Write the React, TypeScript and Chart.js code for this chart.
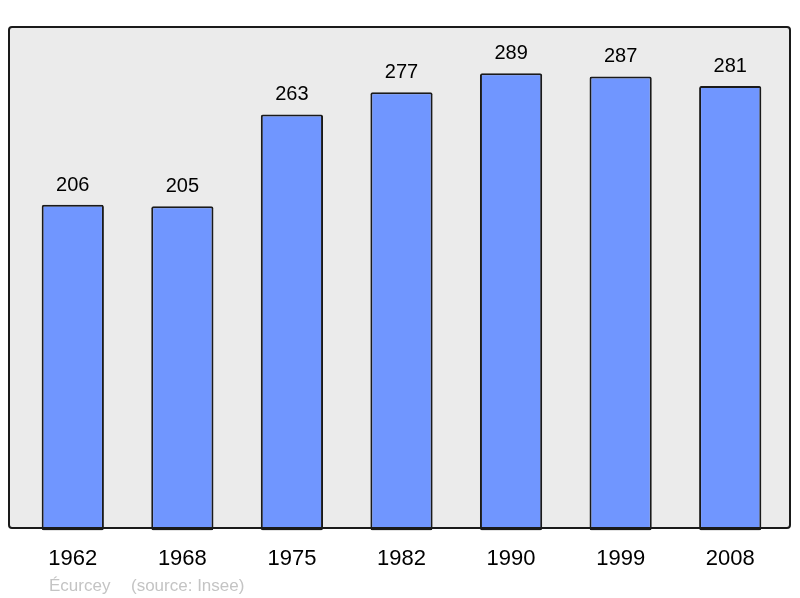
import React, { useEffect, useRef } from "react";
import { Chart, registerables } from "chart.js";

Chart.register(...registerables);

const years = ["1962", "1968", "1975", "1982", "1990", "1999", "2008"];
const population = [206, 205, 263, 277, 289, 287, 281];
const commune = "Écurcey";
const source = "(source: Insee)";

const FONT = "'Liberation Sans', Arial, sans-serif";

function panelPath(ctx: CanvasRenderingContext2D) {
  const x = 9, y = 27, w = 781, h = 501, r = 3;
  ctx.beginPath();
  ctx.moveTo(x + r, y);
  ctx.lineTo(x + w - r, y);
  ctx.quadraticCurveTo(x + w, y, x + w, y + r);
  ctx.lineTo(x + w, y + h - r);
  ctx.quadraticCurveTo(x + w, y + h, x + w - r, y + h);
  ctx.lineTo(x + r, y + h);
  ctx.quadraticCurveTo(x, y + h, x, y + h - r);
  ctx.lineTo(x, y + r);
  ctx.quadraticCurveTo(x, y, x + r, y);
  ctx.closePath();
}

const panelPlugin = {
  id: "panel",
  beforeDraw(chart: any) {
    const ctx = chart.ctx;
    ctx.save();
    panelPath(ctx);
    ctx.fillStyle = "#ebebeb";
    ctx.fill();
    ctx.restore();
  },
  afterDraw(chart: any) {
    const ctx = chart.ctx;
    ctx.save();
    panelPath(ctx);
    ctx.strokeStyle = "#1a1a1a";
    ctx.lineWidth = 2;
    ctx.stroke();

    // value labels
    const meta = chart.getDatasetMeta(0);
    ctx.fillStyle = "#000";
    ctx.font = `20px ${FONT}`;
    ctx.textAlign = "center";
    ctx.textBaseline = "alphabetic";
    meta.data.forEach((bar: any, i: number) => {
      ctx.fillText(String(population[i]), bar.x, bar.y - 14);
    });

    // footer
    ctx.fillStyle = "#c4c4c4";
    ctx.font = `17px ${FONT}`;
    ctx.textAlign = "left";
    ctx.fillText(commune, 49, 591);
    ctx.fillText(source, 131, 591);
    ctx.restore();
  },
};

export default function App() {
  const ref = useRef<HTMLCanvasElement>(null);
  useEffect(() => {
    if (!ref.current) return;
    const chart = new Chart(ref.current, {
      type: "bar",
      data: {
        labels: years,
        datasets: [
          {
            data: population,
            backgroundColor: "#7096ff",
            borderColor: "#1a1a1a",
            borderWidth: 2,
            borderRadius: 2,
            borderSkipped: false,
            barPercentage: 0.568,
            categoryPercentage: 1,
          },
        ],
      },
      options: {
        animation: false,
        responsive: false,
        devicePixelRatio: 1,
        layout: { padding: { left: 18, right: 15, top: 29, bottom: 11 } },
        plugins: { legend: { display: false }, tooltip: { enabled: false } },
        scales: {
          x: {
            grid: { display: false, drawTicks: false },
            border: { display: false },
            ticks: { color: "#000", font: { family: FONT, size: 22 }, padding: 15 },
          },
          y: {
            display: false,
            min: 0,
            max: 317,
          },
        },
      },
      plugins: [panelPlugin],
    });
    return () => chart.destroy();
  }, []);
  return (
    <canvas
      ref={ref}
      width={800}
      height={598}
      style={{ position: "fixed", left: 0, top: 0, width: 800, height: 598 }}
    />
  );
}
